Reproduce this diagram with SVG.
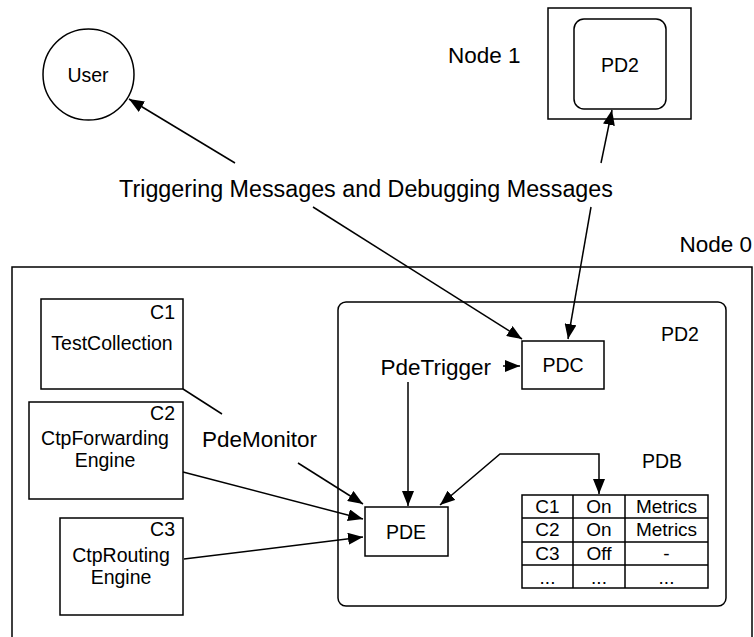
<svg xmlns="http://www.w3.org/2000/svg" width="754" height="637" viewBox="0 0 754 637">
  <defs>
    <marker id="arrow" markerUnits="userSpaceOnUse" markerWidth="16" markerHeight="12" refX="15" refY="6" orient="auto-start-reverse">
      <path d="M0,0 L15,6 L0,12 Z" fill="#000"/>
    </marker>
  </defs>
  <style>
    text { font-family: "Liberation Sans", Arial, Helvetica, sans-serif; fill: #000; }
    .box { fill: #fff; stroke: #000; stroke-width: 1.5; }
    .frame { fill: none; stroke: #000; stroke-width: 1.5; }
    .lbl { font-size: 19.5px; text-anchor: middle; }
    .tag { font-size: 19.5px; text-anchor: end; }
    .big { font-size: 22.5px; }
    .edge { fill: none; stroke: #000; stroke-width: 1.5; }
    .cell { font-size: 19px; text-anchor: middle; }
  </style>

  <!-- Node 0 frame -->
  <g id="node0">
    <rect class="frame" x="12" y="267" width="740" height="420"/>
    <text class="big" x="752" y="252" text-anchor="end">Node 0</text>
  </g>

  <!-- User -->
  <g id="user">
    <circle class="box" cx="88.5" cy="74.5" r="45.5"/>
    <text class="lbl" x="88" y="82">User</text>
  </g>

  <!-- Node 1 with its PD2 -->
  <g id="node1">
    <rect class="frame" x="548" y="8" width="143" height="111"/>
    <rect class="frame" x="574" y="19" width="92" height="90" rx="10"/>
    <text class="lbl" x="620" y="72">PD2</text>
    <text class="big" x="448" y="63">Node 1</text>
  </g>

  <text id="messages" x="366" y="197" text-anchor="middle" font-size="23.3">Triggering Messages and Debugging Messages</text>

  <!-- Components -->
  <g id="c1">
    <rect class="box" x="41" y="299" width="142" height="90"/>
    <text class="tag" x="175" y="319">C1</text>
    <text class="lbl" x="112" y="350">TestCollection</text>
  </g>
  <g id="c2">
    <rect class="box" x="29" y="402" width="154" height="97"/>
    <text class="tag" x="175" y="420">C2</text>
    <text class="lbl" x="105" y="445">CtpForwarding</text>
    <text class="lbl" x="105" y="467">Engine</text>
  </g>
  <g id="c3">
    <rect class="box" x="60" y="518" width="123" height="97"/>
    <text class="tag" x="175" y="536">C3</text>
    <text class="lbl" x="121" y="562">CtpRouting</text>
    <text class="lbl" x="121" y="584">Engine</text>
  </g>

  <text id="pdemonitor" class="big" x="202" y="447">PdeMonitor</text>

  <!-- PD2 on Node 0 -->
  <g id="pd2">
    <rect class="frame" x="338" y="302" width="388" height="304" rx="8"/>
    <text class="lbl" x="680" y="341">PD2</text>
  </g>

  <g id="pdc">
    <rect class="box" x="522" y="341" width="82" height="48"/>
    <text class="lbl" x="563" y="372">PDC</text>
  </g>

  <text id="pdetrigger" class="big" x="491" y="375" text-anchor="end">PdeTrigger</text>

  <g id="pde">
    <rect class="box" x="365" y="507" width="83" height="49"/>
    <text class="lbl" x="406" y="539">PDE</text>
  </g>

  <!-- PDB table -->
  <g id="pdb">
    <text class="lbl" x="662" y="468">PDB</text>
    <rect class="frame" x="522" y="495" width="186" height="93"/>
    <path class="edge" d="M522,518 H708 M522,542 H708 M522,565 H708 M573,495 V588 M625,495 V588"/>
    <text class="cell" x="547.5" y="513">C1</text>
    <text class="cell" x="599" y="513">On</text>
    <text class="cell" x="666.5" y="513">Metrics</text>
    <text class="cell" x="547.5" y="536">C2</text>
    <text class="cell" x="599" y="536">On</text>
    <text class="cell" x="666.5" y="536">Metrics</text>
    <text class="cell" x="547.5" y="560">C3</text>
    <text class="cell" x="599" y="560">Off</text>
    <text class="cell" x="666.5" y="560">-</text>
    <text class="cell" x="547.5" y="584">...</text>
    <text class="cell" x="599" y="584">...</text>
    <text class="cell" x="666.5" y="584">...</text>
  </g>

  <!-- Connectors -->
  <g id="connectors">
    <line class="edge" x1="235" y1="163" x2="129" y2="99" marker-end="url(#arrow)"/>
    <line class="edge" x1="601" y1="163" x2="612" y2="110" marker-end="url(#arrow)"/>
    <line class="edge" x1="313" y1="207" x2="522" y2="339" marker-end="url(#arrow)"/>
    <line class="edge" x1="591" y1="207" x2="568" y2="339" marker-end="url(#arrow)"/>
    <line class="edge" x1="503" y1="366" x2="520" y2="366" marker-end="url(#arrow)"/>
    <line class="edge" x1="408" y1="382" x2="408" y2="506" marker-end="url(#arrow)"/>
    <line class="edge" x1="183" y1="389" x2="222" y2="414"/>
    <line class="edge" x1="298" y1="463" x2="363" y2="504" marker-end="url(#arrow)"/>
    <line class="edge" x1="183" y1="472" x2="363" y2="519" marker-end="url(#arrow)"/>
    <line class="edge" x1="184" y1="559" x2="363" y2="537" marker-end="url(#arrow)"/>
    <polyline class="edge" points="440,505 500,454 599,454 599,494" marker-start="url(#arrow)" marker-end="url(#arrow)"/>
  </g>
</svg>
